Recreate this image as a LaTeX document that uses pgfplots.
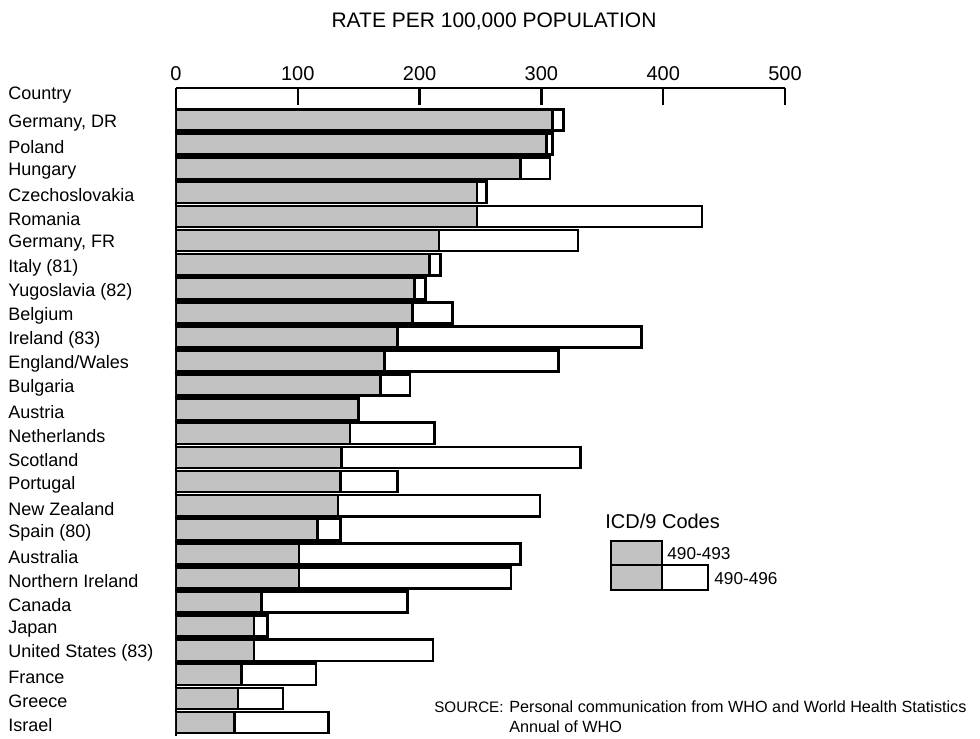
\documentclass[border=0pt]{standalone}
\usepackage{pgfplots}
\pgfplotsset{compat=1.18}
\usepackage{fontspec}
\setmainfont{Liberation Sans}
\begin{document}
\begin{tikzpicture}
\path[use as bounding box] (0,0) rectangle (490pt,369.5pt);
\begin{axis}[
  at={(88pt,1.6pt)}, anchor=south west,
  scale only axis, width=304.5pt, height=323.9pt,
  xbar stacked, bar width=0.88,
  xmin=0, xmax=500, ymin=-1.33, ymax=25.55, y dir=reverse,
  axis x line*=top, axis y line*=left,
  axis line style={line width=1.2pt, -},
  xtick={0,100,200,300,400,500}, tick align=inside, major tick length=8.5pt,
  x tick style={line width=1.2pt, black},
  y tick style={draw=none},
  ytick={0,...,25},
  yticklabels={{Germany, DR},Poland,Hungary,Czechoslovakia,Romania,{Germany, FR},Italy (81),Yugoslavia (82),Belgium,Ireland (83),England/Wales,Bulgaria,Austria,Netherlands,Scotland,Portugal,New Zealand,Spain (80),Australia,Northern Ireland,Canada,Japan,United States (83),France,Greece,Israel},
  yticklabel style={anchor=west, inner sep=0pt, xshift=-84pt, yshift=-1.5pt, font=\fontsize{9}{10}\selectfont},
  xticklabel style={font=\fontsize{10}{12}\selectfont},
  /pgf/number format/assume math mode=true,
  /pgf/number format/1000 sep={},
]
\addplot[fill=black!24, draw=black, line width=1.3pt] coordinates {
(309,0) (304,1) (283,2) (247,3) (247,4) (216,5) (208,6) (196,7) (194,8) (182,9)
(171,10) (168,11) (150,12) (143,13) (136,14) (135,15) (133,16) (116,17) (101,18) (101,19)
(70,20) (64,21) (64,22) (54,23) (51,24) (48,25)};
\addplot[fill=white, draw=black, line width=1.3pt] coordinates {
(9,0) (5,1) (24,2) (8,3) (185,4) (114,5) (9,6) (9,7) (33,8) (200,9)
(143,10) (24,11) (0,12) (69,13) (196,14) (47,15) (166,16) (19,17) (182,18) (174,19)
(120,20) (11,21) (147,22) (61,23) (37,24) (77,25)};
\end{axis}
\node[font=\fontsize{10.5}{12}\selectfont] at (247pt,358.5pt) {RATE PER 100,000 POPULATION};
\node[anchor=west, inner sep=0pt, font=\fontsize{9}{10}\selectfont] at (4pt,322pt) {Country};
\node[anchor=west, inner sep=0pt, font=\fontsize{10}{12}\selectfont] at (302.5pt,109pt) {ICD/9 Codes};
\draw[line width=1.3pt, fill=black!24] (305.5pt,99pt) rectangle (331pt,87pt);
\draw[line width=1.3pt, fill=black!24] (305.5pt,87pt) rectangle (331pt,74.5pt);
\draw[line width=1.3pt, fill=white] (331pt,87pt) rectangle (354pt,74.5pt);
\node[anchor=west, inner sep=0pt, font=\fontsize{8.6}{10}\selectfont] at (333.5pt,92.5pt) {490-493};
\node[anchor=west, inner sep=0pt, font=\fontsize{8.6}{10}\selectfont] at (357pt,80pt) {490-496};
\node[anchor=east, inner sep=0pt, font=\fontsize{7.6}{9}\selectfont] at (252pt,16pt) {SOURCE:};
\node[anchor=west, inner sep=0pt, font=\fontsize{8.1}{9}\selectfont] at (254.5pt,16pt) {Personal communication from WHO and World Health Statistics};
\node[anchor=west, inner sep=0pt, font=\fontsize{8.1}{9}\selectfont] at (254.5pt,6pt) {Annual of WHO};
\end{tikzpicture}
\end{document}
